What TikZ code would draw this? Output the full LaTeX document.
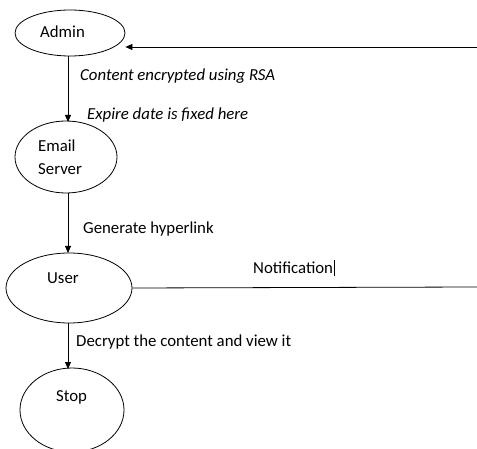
\documentclass[tikz,border=0pt]{standalone}
\usepackage{fontspec}
\setmainfont{Carlito}
\usetikzlibrary{arrows.meta,shapes.geometric}
\begin{document}
\begin{tikzpicture}[x=1pt,y=-1pt,
  every node/.style={font=\fontsize{16.8}{19}\selectfont},
  state/.style={draw,ellipse,line width=0.8pt,inner sep=0pt},
  conn/.style={line width=0.8pt,-{Triangle[length=7pt,width=6pt]}},
  plain/.style={line width=0.8pt},
  lbl/.style={anchor=west,inner sep=0pt}]
\useasboundingbox (0,0) rectangle (477,449);
\clip (0,0) rectangle (477,449);
\node[state,minimum width=110pt,minimum height=46pt] (admin) at (70,33) {};
\node[lbl] (tadmin) at (40,32) {Admin};
\node[state,minimum width=102pt,minimum height=72pt] (email) at (66,157) {};
\node[lbl] (temail1) at (38,146) {Email};
\node[lbl] (temail2) at (38,169) {Server};
\node[state,minimum width=126pt,minimum height=70pt] (user) at (69,288) {};
\node[lbl] (tuser) at (47,278) {User};
\node[state,minimum width=104pt,minimum height=84pt] (stop) at (72,410) {};
\node[lbl] (tstop) at (56,397) {Stop};
\coordinate (rtop) at (477,47);
\coordinate (rbot) at (477,287);
\draw[conn] (rtop) -- (admin.east |- rtop);
\draw[plain] (user.east) -- (rbot);
\draw[conn] (68,56.5) -- (68,122);
\draw[conn] (68,193) -- (68,253);
\draw[conn] (68,323) -- (68,369);
\node[lbl,font=\fontsize{16.8}{19}\selectfont\itshape] (l1) at (80,76) {Content encrypted using RSA};
\node[lbl,font=\fontsize{16.8}{19}\selectfont\itshape] (l2) at (87,115) {Expire date is fixed here};
\node[lbl] (l3) at (83,229) {Generate hyperlink};
\node[lbl] (l4) at (253,268) {Notification};
\draw[line width=1.2pt] (l4.east)+(1,-8) -- +(1,8);
\node[lbl] (l5) at (76,342) {Decrypt the content and view it};
\end{tikzpicture}
\end{document}
